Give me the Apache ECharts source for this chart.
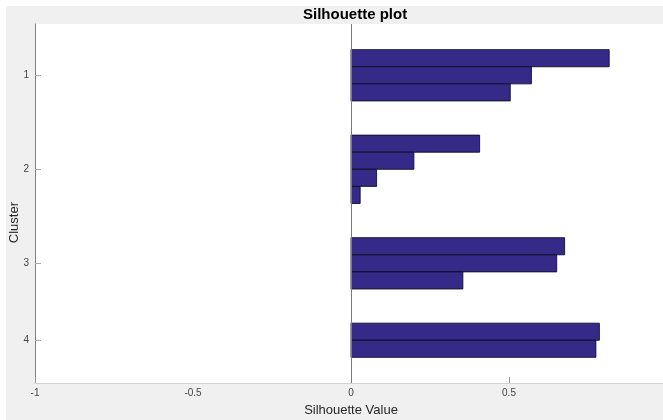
<!DOCTYPE html>
<html>
<head>
<meta charset="utf-8">
<script src="https://cdn.jsdelivr.net/npm/echarts@6/dist/echarts.min.js"></script>
<style>
  html, body { margin: 0; padding: 0; background: #fff; }
  #chart { position: absolute; left: 6px; top: 6px; width: 657px; height: 414px; background: #f0f0f0; }
</style>
</head>
<body>
<div id="chart"></div>
<script>
// silhouette values per cluster, sorted descending like MATLAB does
const clusterNames = ['1', '2', '3', '4'];
const cluster1 = [0.817, 0.571, 0.504];
const cluster2 = [0.407, 0.199, 0.081, 0.029];
const cluster3 = [0.676, 0.651, 0.354];
const cluster4 = [0.786, 0.775];
const clusters = [cluster1, cluster2, cluster3, cluster4];

const gap = 2; // empty rows between clusters

// build row positions from the cluster sizes
const rows = [];
const centers = [];
let pos = 1;
clusters.forEach(vals => {
  vals.forEach((v, i) => rows.push([v, pos + i]));
  centers.push(pos + (vals.length - 1) / 2);
  pos += vals.length + gap;
});
const yMin = 1 - gap;
const yMax = pos - 1;

const font = '"Liberation Sans", Arial, sans-serif';
const chart = echarts.init(document.getElementById('chart'));

chart.setOption({
  animation: false,
  textStyle: { fontFamily: font },
  title: {
    text: 'Silhouette plot',
    left: 297,
    top: 0,
    padding: [1, 0, 0, 0],
    textStyle: { fontSize: 15, fontWeight: 'bold', color: '#000', fontFamily: font }
  },
  graphic: [{
    type: 'text',
    left: 2,
    top: 196,
    rotation: Math.PI / 2,
    style: { text: 'Cluster', fontSize: 13, fill: '#262626', fontFamily: font }
  }],
  grid: {
    left: 29, top: 18, bottom: 37, right: -4,
    outerBoundsMode: 'none',
    containLabel: false,
    show: true, backgroundColor: '#fff', borderWidth: 0
  },
  xAxis: {
    type: 'value',
    min: -1, max: 1, interval: 0.5,
    name: 'Silhouette Value',
    nameLocation: 'middle',
    nameGap: 21,
    nameTextStyle: { fontSize: 13, color: '#262626', fontFamily: font },
    axisLine: { show: true, onZero: false, lineStyle: { color: '#d4d4d4' } },
    axisTick: { show: true, inside: true, length: 6, customValues: [-1, 0, 0.5, 1], lineStyle: { color: '#999' } },
    axisLabel: { fontSize: 10, color: '#444', margin: 5, formatter: v => String(v) },
    splitLine: { show: false }
  },
  yAxis: {
    type: 'value',
    inverse: true,
    min: yMin, max: yMax,
    axisLine: { show: true, onZero: false, lineStyle: { color: '#808080' } },
    axisTick: { show: true, inside: true, length: 6, customValues: centers, lineStyle: { color: '#aaa' } },
    axisLabel: {
      fontSize: 10, color: '#444', margin: 6,
      customValues: centers,
      formatter: v => clusterNames[centers.indexOf(v)]
    },
    splitLine: { show: false }
  },
  series: [
    {
      type: 'custom',
      data: rows,
      renderItem: (params, api) => {
        const a = api.coord([0, api.value(1) - 0.5]);
        const b = api.coord([api.value(0), api.value(1) + 0.5]);
        return {
          type: 'rect',
          shape: { x: a[0], y: a[1], width: b[0] - a[0], height: b[1] - a[1] },
          style: { fill: '#352a87', stroke: 'rgba(10,10,30,0.85)', lineWidth: 1 }
        };
      }
    },
    {
      // baseline at zero
      type: 'line',
      data: [],
      markLine: {
        silent: true,
        symbol: 'none',
        label: { show: false },
        lineStyle: { color: '#7a7a7a', width: 1, type: 'solid' },
        data: [{ xAxis: 0 }]
      }
    }
  ]
});
</script>
</body>
</html>
